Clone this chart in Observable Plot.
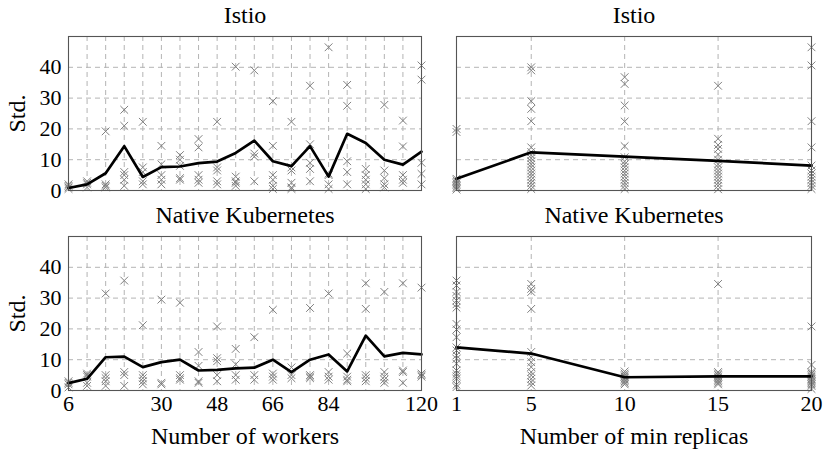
<!DOCTYPE html>
<html>
<head>
<meta charset="utf-8">
<script src="https://cdn.jsdelivr.net/npm/d3@7"></script>
<script src="https://cdn.jsdelivr.net/npm/@observablehq/plot@0.6"></script>
<style>
  html, body { margin: 0; padding: 0; background: #fff; }
  #wrap { position: relative; width: 830px; height: 456px; }
  .panel { position: absolute; }
</style>
</head>
<body>
<div id="wrap"></div>
<script>
// ---------- Data ----------
const titles = ["Istio", "Native Kubernetes"];
const yTicks = [0, 10, 20, 30, 40];

// Left column: categorical worker slots (equally spaced)
const workerSlots = [0, 1, 2, 3, 4, 5, 6, 7, 8, 9, 10, 11, 12, 13, 14, 15, 16, 17, 18, 19];
const workerTickSlots = [0, 5, 8, 11, 14, 19];
const workerTickLabels = ["6", "30", "48", "66", "84", "120"];

const istioWorkerMean = [0.8, 2, 5.6, 14.4, 4.4, 7.6, 7.8, 8.9, 9.4, 12.2, 16.2, 9.5, 7.9, 14.4, 4.5, 18.4, 15.4, 10, 8.4, 12.6];
const istioWorkerPoints = [
  [0.5, 1, 1.5, 2],
  [1, 2, 2.5, 3],
  [19.2, 1, 1.5, 2],
  [26.2, 21, 6, 5, 3.5, 1.5],
  [22.3, 7.5, 6, 3, 2],
  [14.5, 8.5, 5, 3.5, 2],
  [11.5, 10, 8, 4, 3.5],
  [16.7, 14, 5, 3.5, 2.5],
  [22.3, 7.5, 6.5, 3, 2],
  [40.2, 4.5, 3, 2.5, 1.5],
  [39, 12, 11, 3],
  [29, 14.5, 5, 3.5, 1.5, 0.5],
  [22.3, 7.5, 6.5, 2.5, 1, 0.5],
  [34, 15, 9, 7, 3],
  [46.5, 5.5, 5, 2, 0.5],
  [34.3, 27.5, 9.5, 6, 2],
  [7, 5, 3.5, 2, 0.5],
  [27.8, 6.5, 4, 2, 1],
  [22.7, 14.3, 5, 3.5, 2.5],
  [40.6, 36, 9, 5.4, 2]
];

const k8sWorkerMean = [2.4, 3.8, 10.8, 11, 7.6, 9.2, 10, 6.5, 6.7, 7.2, 7.4, 10, 6, 10, 11.7, 6.2, 17.8, 11.1, 12.2, 11.7];
const k8sWorkerPoints = [
  [1, 2, 2.5, 3],
  [5.5, 5, 4.5, 2.5, 1.5],
  [31.5, 5, 4, 3, 1.5],
  [35.7, 6, 5, 1.5],
  [21.2, 5, 4, 3, 2],
  [29.5, 2.5, 2],
  [28.5, 5, 4, 3.5],
  [12.5, 8, 3, 2.5],
  [20.8, 10.5, 9.5, 5, 3],
  [13.5, 8.5, 5, 3.5],
  [17.3, 5, 3.5],
  [26.2, 5.5, 4.5, 3.5],
  [7.5, 5, 4],
  [26.8, 5, 4.5, 4],
  [31.5, 6, 4.5, 3.5],
  [12, 4.5, 3.5, 3],
  [34.8, 26.5, 5, 4, 3],
  [32, 6, 4.5, 3.5, 2.5],
  [34.8, 6.5, 6, 2.5],
  [33.4, 5.5, 5, 4.5]
];

// Right column: min replicas
const replicas = [1, 5, 10, 15, 20];
const replicaTicks = [1, 5, 10, 15, 20];

const istioReplicaMean = [3.8, 12.4, 11, 9.6, 8.1];
const istioReplicaPoints = [
  [20, 19, 3.8, 3.3, 2.8, 2.3, 1.8, 1.2, 0.8, 0.3],
  [40, 39, 29, 26.5, 22.5, 14, 12.5, 11.5, 10.5, 9.5, 8.5, 7.5, 6.5, 5.5, 4.5, 3.5, 2.5, 1.5, 0.5],
  [36.8, 34.6, 27.6, 22.4, 14.4, 10.8, 9.5, 8.5, 7.5, 6.5, 5.5, 4.5, 3.5, 2.5, 1.5, 0.5],
  [34, 16.8, 14.8, 13.5, 11.7, 10, 8.5, 7.5, 6.5, 5.5, 4.5, 3.5, 2.5, 1.5, 0.4],
  [46.5, 40.6, 22.5, 14, 8.1, 6.5, 5.5, 4.5, 3.5, 2.5, 1.5, 0.5]
];

const k8sReplicaMean = [14, 12, 4.3, 4.6, 4.6];
const k8sReplicaPoints = [
  [35.7, 34.1, 32, 30.7, 29.2, 28, 26.9, 21.6, 19.8, 17.3, 14, 13, 11.4, 10.3, 8.7, 6.5, 5.4, 4.6, 3.8, 1.9, 1.1],
  [34.6, 33, 32, 26.5, 12.5, 10.8, 9.2, 7.6, 6, 4.9, 3.8, 2.7, 1.6],
  [6.2, 5.5, 5, 4.5, 4, 3.5, 3, 2.5, 2],
  [34.6, 6, 5.5, 5, 4.5, 4, 3.5, 3, 2.5, 2],
  [20.8, 8.3, 6, 5.5, 5, 4.5, 4, 3.5, 3, 2.5, 2, 1.5, 0.5]
];

const xLabels = ["Number of workers", "Number of min replicas"];
const yLabel = "Std.";

// ---------- Drawing ----------
const FONT = "Liberation Serif";
const LABEL_SIZE = 24;
const TICK_SIZE = 22;
const gridStyle = {stroke: "#b4b4b4", strokeOpacity: 1, strokeWidth: 1, strokeDasharray: "5,4"};

function flatten(xs, arrays) {
  const rows = [];
  xs.forEach((x, i) => arrays[i].forEach(v => rows.push({x, y: v})));
  return rows;
}

function panel({left, top, width, height, margins, xDomain, gridXs, xTicks, xTickLabels, showY, showX, title, xLabel, xs, mean, points}) {
  const marks = [
    Plot.gridY([10, 20, 30, 40], gridStyle),
    Plot.gridX(gridXs, gridStyle),
    Plot.dot(flatten(xs, points), {x: "x", y: "y", symbol: "times", r: 3.6, stroke: "#808080", strokeWidth: 1}),
    Plot.line(xs.map((x, i) => ({x, y: mean[i]})), {x: "x", y: "y", stroke: "#000", strokeWidth: 2.7}),
    Plot.frame({stroke: "#555", strokeWidth: 1.1}),
    Plot.text([title], {frameAnchor: "top", lineAnchor: "middle", dy: -21, fontSize: LABEL_SIZE, fill: "#000"})
  ];
  if (showY) {
    marks.push(Plot.axisY(yTicks, {tickSize: 0, tickPadding: 7, fontSize: TICK_SIZE, label: null}));
    marks.push(Plot.text([yLabel], {frameAnchor: "left", textAnchor: "middle", lineAnchor: "middle", dx: -51, rotate: -90, fontSize: LABEL_SIZE, fill: "#000"}));
  }
  if (showX) {
    marks.push(Plot.axisX(xTicks, {tickSize: 0, tickPadding: 5, fontSize: TICK_SIZE,
      tickFormat: d => xTickLabels[xTicks.indexOf(d)], label: null}));
    marks.push(Plot.text([xLabel], {frameAnchor: "bottom", lineAnchor: "middle", dy: 46, fontSize: LABEL_SIZE, fill: "#000"}));
  }
  const svg = Plot.plot({
    width, height,
    marginLeft: margins[0], marginRight: margins[1], marginTop: margins[2], marginBottom: margins[3],
    style: {fontFamily: FONT, fontSize: TICK_SIZE + "px", color: "#000", background: "transparent", overflow: "visible"},
    x: {domain: xDomain, axis: null},
    y: {domain: [0, 50], axis: null},
    marks
  });
  const div = document.createElement("div");
  div.className = "panel";
  div.style.left = left + "px";
  div.style.top = top + "px";
  div.appendChild(svg);
  document.getElementById("wrap").appendChild(div);
}

// Top-left
panel({left: 0, top: 0, width: 438, height: 200, margins: [68, 17, 36, 10],
  xDomain: [0, 19], gridXs: workerSlots, xTicks: workerTickSlots, xTickLabels: workerTickLabels,
  showY: true, showX: false, title: titles[0], xLabel: xLabels[0],
  xs: workerSlots, mean: istioWorkerMean, points: istioWorkerPoints});
// Top-right
panel({left: 438, top: 0, width: 392, height: 200, margins: [18, 19, 36, 10],
  xDomain: [1, 20], gridXs: replicaTicks, xTicks: replicaTicks, xTickLabels: replicaTicks.map(String),
  showY: false, showX: false, title: titles[0], xLabel: xLabels[1],
  xs: replicas, mean: istioReplicaMean, points: istioReplicaPoints});
// Bottom-left
panel({left: 0, top: 200, width: 438, height: 256, margins: [68, 17, 36, 66],
  xDomain: [0, 19], gridXs: workerSlots, xTicks: workerTickSlots, xTickLabels: workerTickLabels,
  showY: true, showX: true, title: titles[1], xLabel: xLabels[0],
  xs: workerSlots, mean: k8sWorkerMean, points: k8sWorkerPoints});
// Bottom-right
panel({left: 438, top: 200, width: 392, height: 256, margins: [18, 19, 36, 66],
  xDomain: [1, 20], gridXs: replicaTicks, xTicks: replicaTicks, xTickLabels: replicaTicks.map(String),
  showY: false, showX: true, title: titles[1], xLabel: xLabels[1],
  xs: replicas, mean: k8sReplicaMean, points: k8sReplicaPoints});
</script>
</body>
</html>
